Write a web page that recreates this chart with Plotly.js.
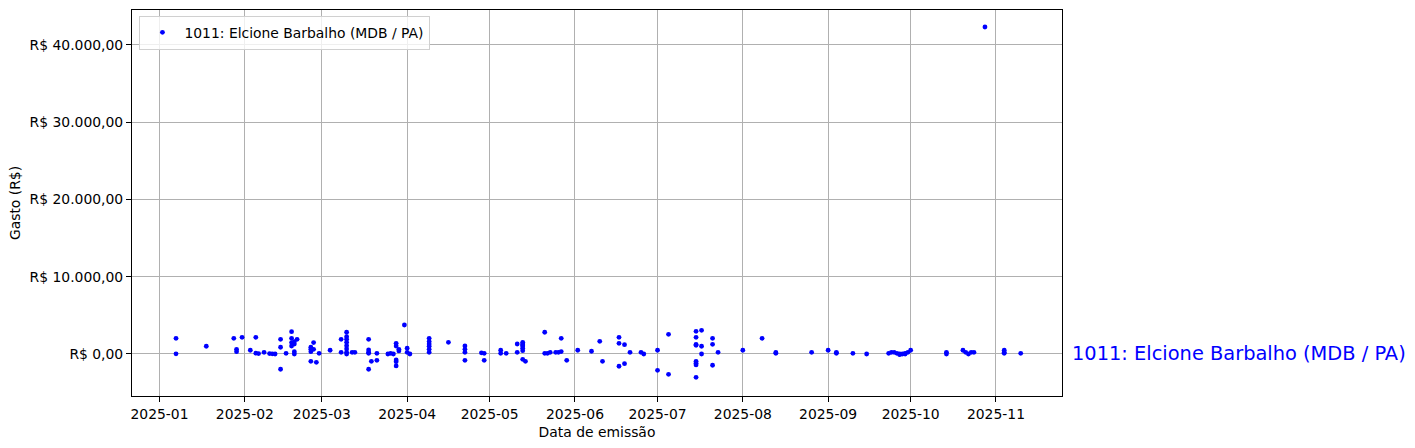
<!DOCTYPE html>
<html>
<head>
<meta charset="utf-8">
<script src="https://cdn.plot.ly/plotly-3.0.1.min.js"></script>
<style>html,body{margin:0;padding:0;background:#fff;}#chart{width:1415px;height:448px;}</style>
</head>
<body>
<div id="chart"></div>
<script>
const seriesName = "1011: Elcione Barbalho (MDB / PA)";
const dates = [
"2025-01-07","2025-01-07","2025-01-18","2025-01-28","2025-01-29","2025-01-29","2025-01-31",
"2025-02-03","2025-02-05","2025-02-05","2025-02-06","2025-02-08","2025-02-10","2025-02-11","2025-02-12",
"2025-02-14","2025-02-14","2025-02-14","2025-02-16",
"2025-02-18","2025-02-18","2025-02-18","2025-02-18","2025-02-19","2025-02-19","2025-02-19","2025-02-19","2025-02-20",
"2025-02-25","2025-02-25","2025-02-25","2025-02-25","2025-02-26","2025-02-26","2025-02-27","2025-02-28",
"2025-03-04","2025-03-08","2025-03-08",
"2025-03-10","2025-03-10","2025-03-10","2025-03-10","2025-03-10","2025-03-10","2025-03-10","2025-03-10",
"2025-03-12","2025-03-13",
"2025-03-18","2025-03-18","2025-03-18","2025-03-18","2025-03-18","2025-03-19","2025-03-21","2025-03-21",
"2025-03-25","2025-03-26","2025-03-27",
"2025-03-28","2025-03-28","2025-03-28","2025-03-28","2025-03-28","2025-03-29","2025-03-29",
"2025-03-31","2025-04-01","2025-04-01","2025-04-02",
"2025-04-09","2025-04-09","2025-04-09","2025-04-09","2025-04-09","2025-04-09",
"2025-04-16","2025-04-22","2025-04-22","2025-04-22","2025-04-22",
"2025-04-28","2025-04-29","2025-04-29",
"2025-05-05","2025-05-05","2025-05-07",
"2025-05-11","2025-05-11","2025-05-13","2025-05-13","2025-05-13","2025-05-13","2025-05-13","2025-05-13","2025-05-13","2025-05-14",
"2025-05-21","2025-05-21","2025-05-22","2025-05-23","2025-05-25","2025-05-26","2025-05-27","2025-05-27","2025-05-29",
"2025-06-02","2025-06-07","2025-06-10","2025-06-11",
"2025-06-17","2025-06-17","2025-06-17","2025-06-19","2025-06-19","2025-06-21","2025-06-25","2025-06-26",
"2025-07-01","2025-07-01","2025-07-05","2025-07-05",
"2025-07-15","2025-07-15","2025-07-15","2025-07-15","2025-07-15","2025-07-15","2025-07-15","2025-07-15",
"2025-07-17","2025-07-17","2025-07-17",
"2025-07-21","2025-07-21","2025-07-21","2025-07-23",
"2025-08-01","2025-08-08","2025-08-13","2025-08-13","2025-08-26",
"2025-09-01","2025-09-04","2025-09-04","2025-09-10","2025-09-15",
"2025-09-23","2025-09-24","2025-09-25","2025-09-26","2025-09-27","2025-09-27","2025-09-28","2025-09-29","2025-09-29","2025-09-30","2025-10-01",
"2025-10-14","2025-10-14",
"2025-10-20","2025-10-21","2025-10-22","2025-10-23","2025-10-24",
"2025-10-28",
"2025-11-04","2025-11-04","2025-11-04","2025-11-10"
];
const values = [
2030,20,1000,2030,600,300,2160,
480,2160,100,50,220,50,20,0,
1900,870,-1980,90,
2890,2030,1470,1035,1290,1600,300,0,1900,
870,600,300,-950,1470,600,-1080,90,
480,1900,220,
2810,2240,1900,1510,1075,650,220,0,
220,220,
1900,520,90,220,-1980,-950,-820,90,
0,90,0,
-780,-1000,-1550,1380,1035,600,390,
3750,740,220,0,
2030,1600,1290,1000,600,220,
1510,1035,600,220,-820,
150,90,-820,
480,90,90,
1290,220,1510,1165,740,430,-690,1290,1035,-950,
2810,90,90,220,220,220,2030,310,-820,
480,350,1640,-950,
2160,1380,-1590,1200,-1250,220,220,0,
480,-2110,2550,-2630,
2930,2160,1250,1120,-950,-1200,-1420,-3020,
3060,1000,0,
2030,1250,-1460,220,
480,2030,200,90,220,
480,220,90,90,0,
90,220,220,90,0,-90,0,90,0,220,480,
220,0,
480,220,0,220,220,
42330,
220,480,90,90
];
const xTickVals = ["2025-01-01","2025-02-01","2025-03-01","2025-04-01","2025-05-01","2025-06-01","2025-07-01","2025-08-01","2025-09-01","2025-10-01","2025-11-01"];
const xTickText = ["2025-01","2025-02","2025-03","2025-04","2025-05","2025-06","2025-07","2025-08","2025-09","2025-10","2025-11"];
const yTickVals = [0,10000,20000,30000,40000];
const yTickText = ["R$ 0,00","R$ 10.000,00","R$ 20.000,00","R$ 30.000,00","R$ 40.000,00"];

const font = {family: "DejaVu Sans", size: 13.9, color: "#000"};
const trace = {
  x: dates, y: values, type: "scatter", mode: "markers", name: seriesName,
  marker: {color: "blue", size: 4.8}
};
const layout = {
  width: 1415, height: 448,
  margin: {l: 132, r: 353, t: 10, b: 52},
  paper_bgcolor: "#fff", plot_bgcolor: "#fff",
  font: font,
  showlegend: true,
  legend: {x: 0.008, y: 0.985, xanchor: "left", yanchor: "top",
    bgcolor: "rgba(255,255,255,0.8)", bordercolor: "#d0d0d0", borderwidth: 1,
    font: font, itemsizing: "trace", itemwidth: 34},
  xaxis: {
    type: "date", range: ["2024-12-22", "2025-11-25"],
    tickvals: xTickVals, ticktext: xTickText,
    showgrid: true, gridcolor: "#b0b0b0", gridwidth: 1,
    showline: true, linecolor: "#000", linewidth: 1, mirror: true,
    ticks: "outside", ticklen: 5, tickcolor: "#000",
    zeroline: false,
    title: {text: "Data de emissão", font: font, standoff: 6}
  },
  yaxis: {
    range: [-5440, 44530],
    tickvals: yTickVals, ticktext: yTickText,
    showgrid: true, gridcolor: "#b0b0b0", gridwidth: 1,
    showline: true, linecolor: "#000", linewidth: 1, mirror: true,
    ticks: "outside", ticklen: 5, tickcolor: "#000",
    zeroline: false,
    title: {text: "Gasto (R$)", font: font, standoff: 5}
  },
  annotations: [{
    xref: "paper", yref: "y", x: 1, y: 0, xanchor: "left", yanchor: "middle",
    xshift: 8, text: seriesName, showarrow: false,
    font: {family: "DejaVu Sans", size: 19.4, color: "blue"}
  }]
};
Plotly.newPlot("chart", [trace], layout, {displayModeBar: false, staticPlot: true});
</script>
</body>
</html>
